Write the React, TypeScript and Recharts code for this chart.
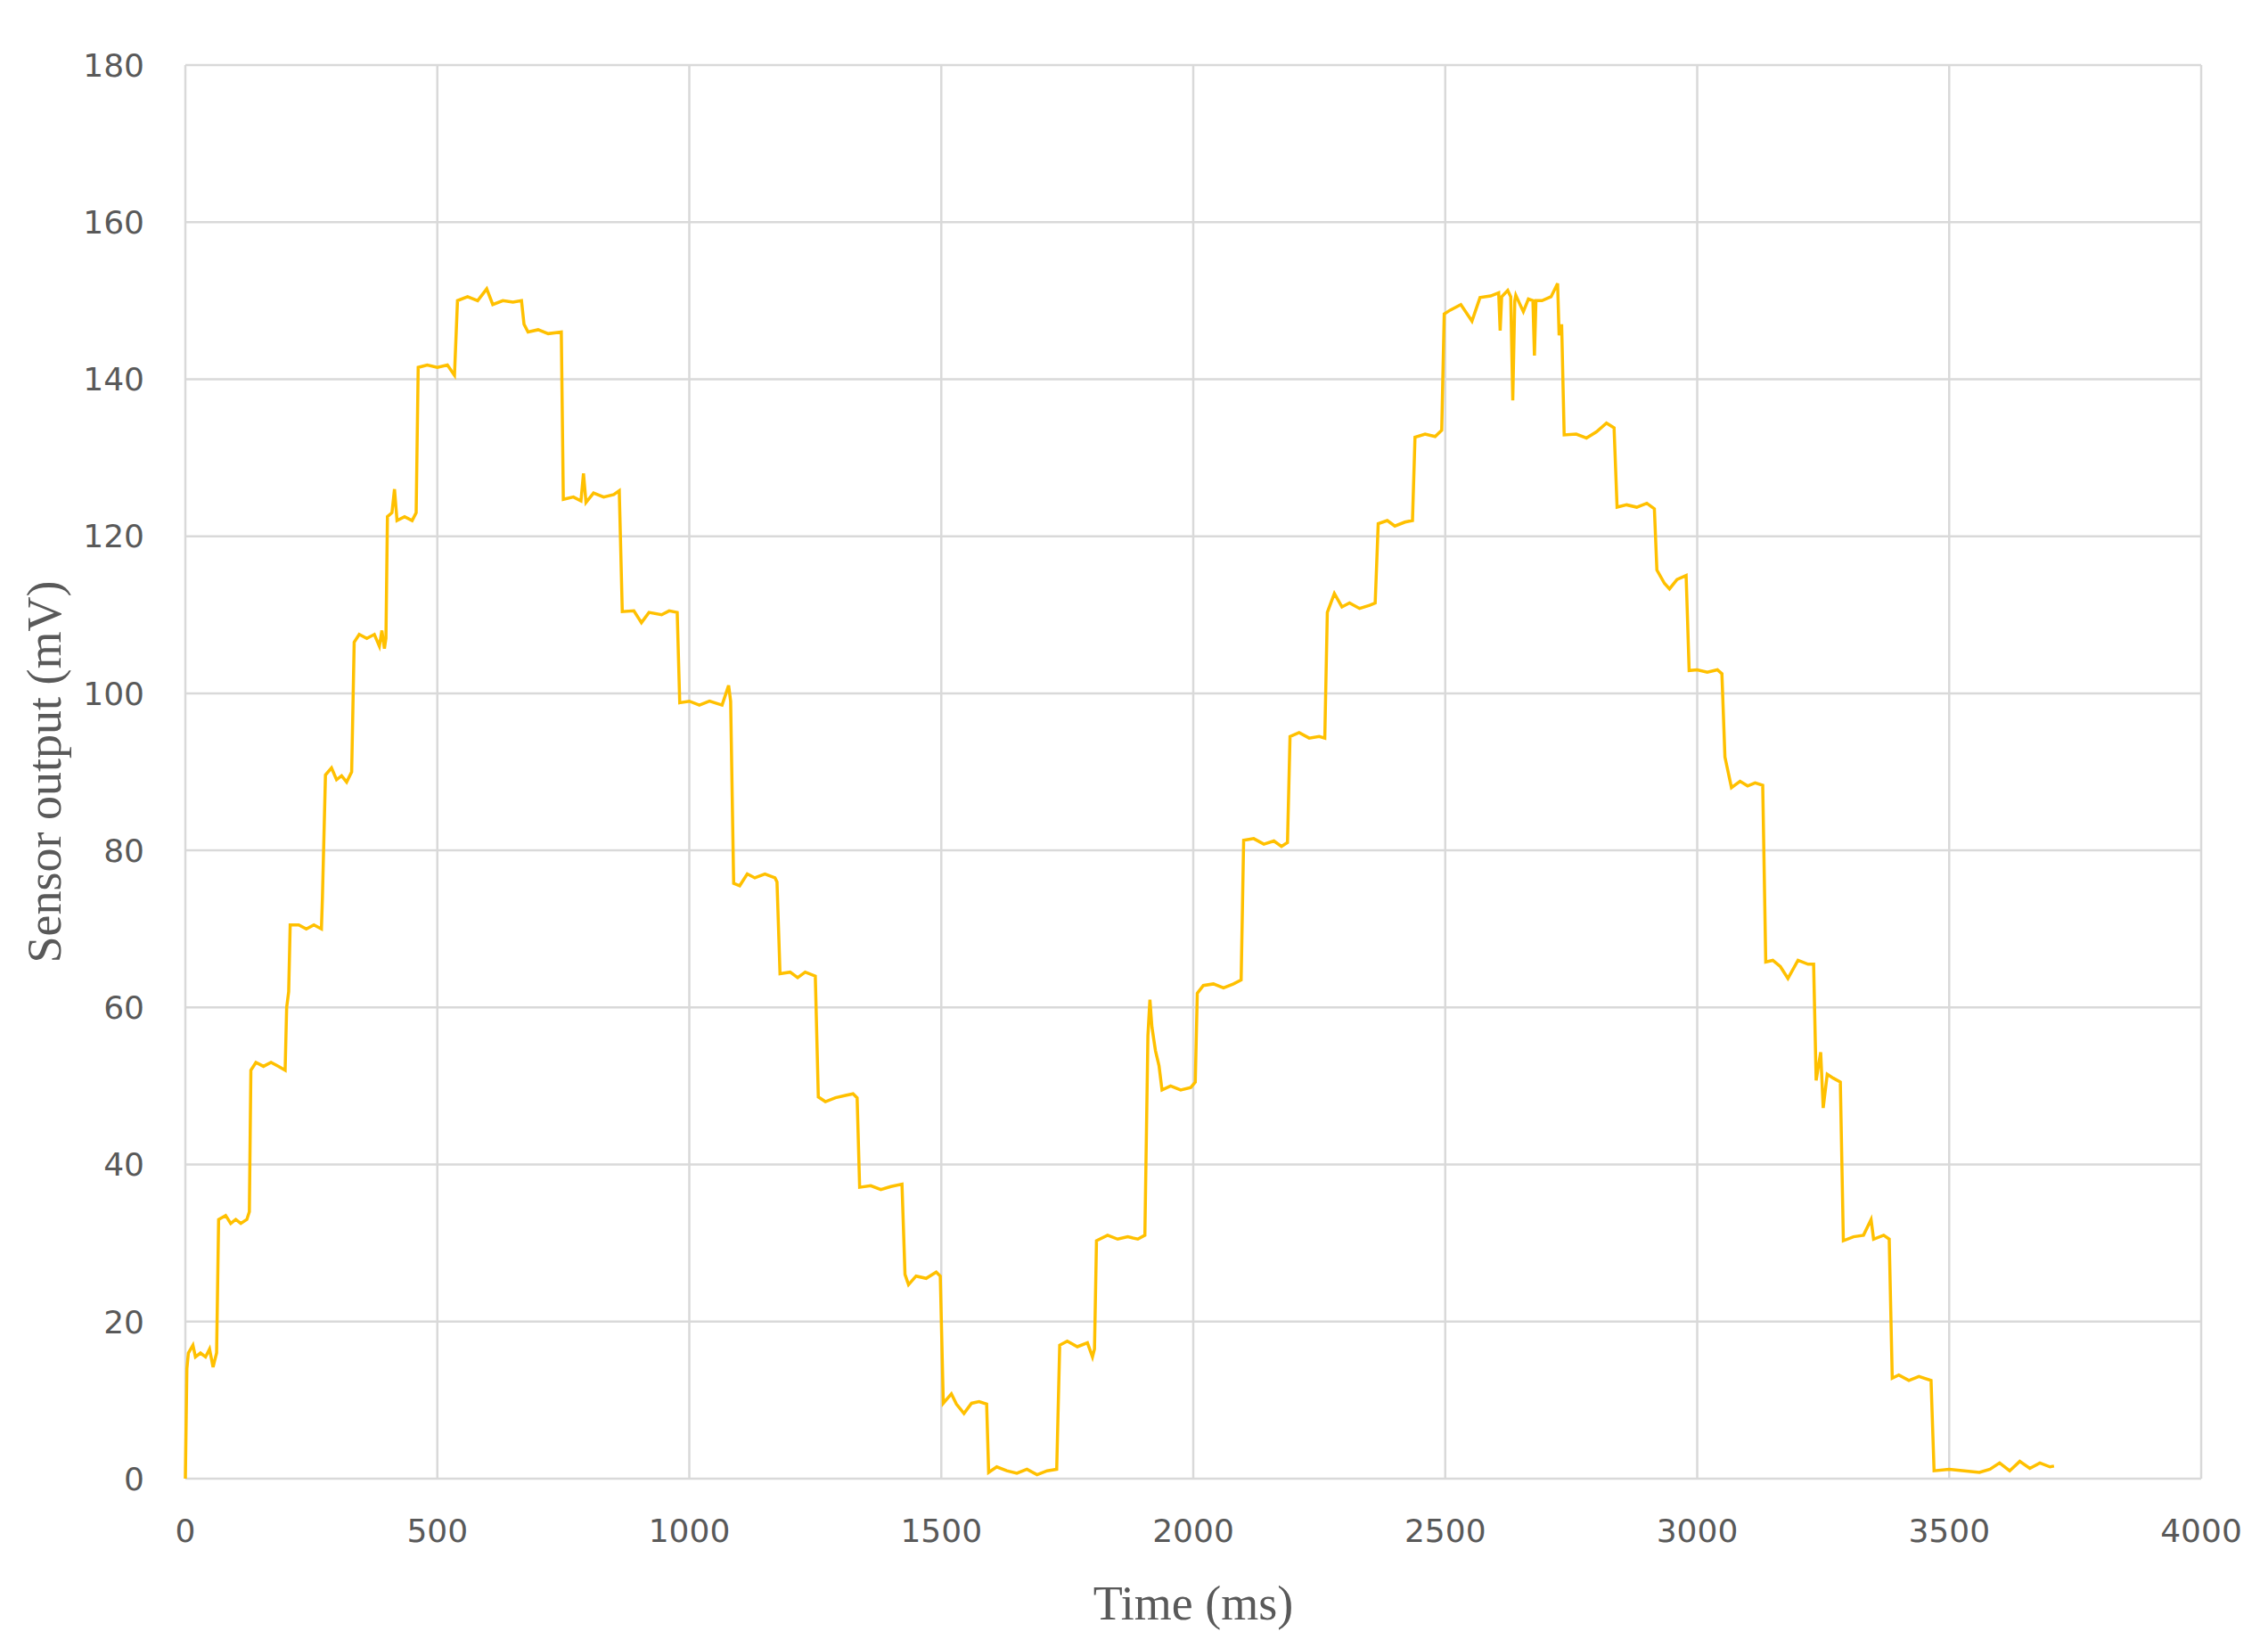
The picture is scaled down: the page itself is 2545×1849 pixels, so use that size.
import React from "react";
import {
	LineChart,
	Line,
	XAxis,
	YAxis,
	CartesianGrid,
	Label,
} from "recharts";

// sample times (ms) and sensor readings (mV)
const timeMs = [
	0, 3, 6, 15, 20, 30, 40, 48, 55, 58, 62, 66, 80, 90, 100, 110, 122, 127,
	130, 140, 155, 170, 185, 198, 201, 205, 208, 225, 240, 255, 270, 272, 278,
	290, 300, 310, 320, 330, 335, 345, 360, 375, 385, 390, 395, 398, 401, 410,
	415, 420, 435, 450, 458, 462, 480, 500, 520, 534, 540, 560, 580, 598, 610,
	630, 650, 667, 672, 680, 700, 720, 746, 750, 770, 785, 790, 795, 810, 830,
	850, 861, 867, 890, 905, 920, 945, 960, 976, 981, 1000, 1020, 1040, 1065,
	1078, 1082, 1088, 1100, 1115, 1130, 1150, 1170, 1174, 1180, 1200, 1215,
	1230, 1250, 1256, 1270, 1290, 1310, 1325, 1333, 1338, 1360, 1380, 1400,
	1422, 1428, 1435, 1450, 1470, 1490, 1498, 1504, 1520, 1530, 1545, 1560,
	1575, 1590, 1594, 1610, 1630, 1650, 1670, 1690, 1710, 1729, 1735, 1750,
	1770, 1790, 1800, 1804, 1808, 1830, 1850, 1870, 1890, 1904, 1910, 1914,
	1918, 1925, 1932, 1938, 1955, 1975, 1995, 2004, 2008, 2020, 2040, 2060,
	2080, 2095, 2100, 2120, 2140, 2160, 2175, 2187, 2192, 2210, 2230, 2250,
	2261, 2266, 2280, 2295, 2310, 2330, 2350, 2361, 2367, 2385, 2400, 2420,
	2435, 2440, 2460, 2480, 2493, 2498, 2510, 2531, 2553, 2569, 2590, 2606,
	2609, 2612, 2624, 2630, 2634, 2638, 2640, 2655, 2665, 2674, 2677, 2680,
	2692, 2710, 2723, 2726, 2731, 2736, 2760, 2780, 2800, 2820, 2835, 2841,
	2860, 2880, 2900, 2915, 2920, 2935, 2945, 2960, 2978, 2984, 3000, 3020,
	3040, 3049, 3055, 3068, 3085, 3100, 3115, 3130, 3136, 3150, 3165, 3180,
	3200, 3220, 3231, 3236, 3245, 3250, 3258, 3270, 3284, 3290, 3310, 3330,
	3345, 3350, 3370, 3381, 3387, 3400, 3420, 3440, 3464, 3470, 3500, 3530,
	3560, 3581, 3600, 3620, 3640, 3660, 3680, 3700, 3708,
];

const sensorMv = [
	0, 14, 16, 17, 15.5, 16, 15.5, 16.5, 14.2, 15, 16, 33, 33.5, 32.5, 33, 32.5,
	33, 34, 52, 53, 52.5, 53, 52.5, 52, 60, 62, 70.5, 70.5, 70, 70.5, 70, 74,
	89.6, 90.5, 89, 89.5, 88.7, 90, 106.5, 107.5, 107, 107.5, 106, 108, 105.7,
	107, 122.5, 123, 126, 122, 122.5, 122, 123, 141.5, 141.8, 141.5, 141.8,
	140.5, 150, 150.5, 150, 151.5, 149.5, 150, 149.8, 150, 147, 146, 146.3,
	145.8, 146, 124.7, 125, 124.5, 128, 124.3, 125.5, 125, 125.3, 125.8, 110.4,
	110.5, 109, 110.3, 110, 110.5, 110.3, 98.8, 99, 98.5, 99, 98.5, 101, 99,
	75.8, 75.5, 77, 76.5, 77, 76.5, 76, 64.3, 64.5, 63.8, 64.5, 64, 48.6, 48,
	48.5, 48.8, 49, 48.5, 37.1, 37.3, 36.8, 37.2, 37.5, 26, 24.7, 25.8, 25.5,
	26.3, 25.8, 9.6, 10.8, 9.5, 8.3, 9.6, 9.8, 9.5, 0.8, 1.5, 1, 0.7, 1.2, 0.5,
	1, 1.2, 17, 17.5, 16.8, 17.3, 15.5, 16.5, 30.3, 31, 30.5, 30.8, 30.5, 31,
	56.4, 61, 57.5, 54.5, 52.6, 49.5, 50, 49.5, 49.8, 50.5, 61.8, 62.8, 63,
	62.5, 63, 63.5, 81.3, 81.5, 80.8, 81.2, 80.5, 81, 94.5, 95, 94.3, 94.5,
	94.3, 110.3, 112.7, 111, 111.5, 110.8, 111.2, 111.5, 121.6, 122, 121.3,
	121.8, 122, 132.6, 133, 132.7, 133.5, 148.3, 148.8, 149.5, 147.4, 150.4,
	150.6, 151, 146.2, 150.5, 151.3, 150.5, 137.3, 150, 150.7, 148.6, 150.2,
	150, 143, 150, 150, 150.5, 152.2, 145.6, 147, 132.9, 133, 132.5, 133.3,
	134.4, 133.8, 123.7, 124, 123.7, 124.2, 123.5, 115.7, 114, 113.3, 114.5,
	115, 102.9, 103, 102.7, 103, 102.5, 91.9, 88, 88.8, 88.2, 88.6, 88.3, 65.8,
	66, 65.2, 63.7, 66, 65.5, 65.5, 50.7, 54.3, 47.2, 51.5, 51, 50.5, 30.3,
	30.8, 31, 33, 30.5, 31, 30.5, 12.8, 13.2, 12.5, 13, 12.5, 1, 1.2, 1, 0.8,
	1.2, 2, 1, 2.2, 1.3, 2, 1.5, 1.6,
];

const xTicks = [0, 500, 1000, 1500, 2000, 2500, 3000, 3500, 4000];
const yTicks = [0, 20, 40, 60, 80, 100, 120, 140, 160, 180];

const data = timeMs.map((t, i) => ({ t, v: sensorMv[i] }));

const tickStyle = { fontFamily: "DejaVu Sans", fontSize: 36, fill: "#595959" };
const titleStyle = {
	fontFamily: "Liberation Serif",
	fontSize: 54,
	fill: "#595959",
	textAnchor: "middle" as const,
};

export default function App() {
	return (
		<LineChart
			width={2529}
			height={1833}
			data={data}
			margin={{ top: 65, right: 67, left: 0, bottom: 0 }}
		>
			<CartesianGrid stroke="#d9d9d9" strokeWidth={2.5} />
			<XAxis
				dataKey="t"
				type="number"
				domain={[0, 4000]}
				ticks={xTicks}
				height={182}
				axisLine={false}
				tickLine={false}
				tickSize={0}
				tickMargin={45}
				tick={tickStyle}
			>
				<Label
					value="Time (ms)"
					position="insideBottom"
					offset={24}
					style={titleStyle}
				/>
			</XAxis>
			<YAxis
				type="number"
				domain={[0, 180]}
				ticks={yTicks}
				width={200}
				axisLine={false}
				tickLine={false}
				tickSize={0}
				tickMargin={46}
				tick={tickStyle}
			>
				<Label
					value="Sensor output (mV)"
					angle={-90}
					position="insideLeft"
					offset={41}
					style={titleStyle}
				/>
			</YAxis>
			<Line
				type="linear"
				dataKey="v"
				stroke="#FFC000"
				strokeWidth={3.5}
				dot={false}
				isAnimationActive={false}
			/>
		</LineChart>
	);
}
